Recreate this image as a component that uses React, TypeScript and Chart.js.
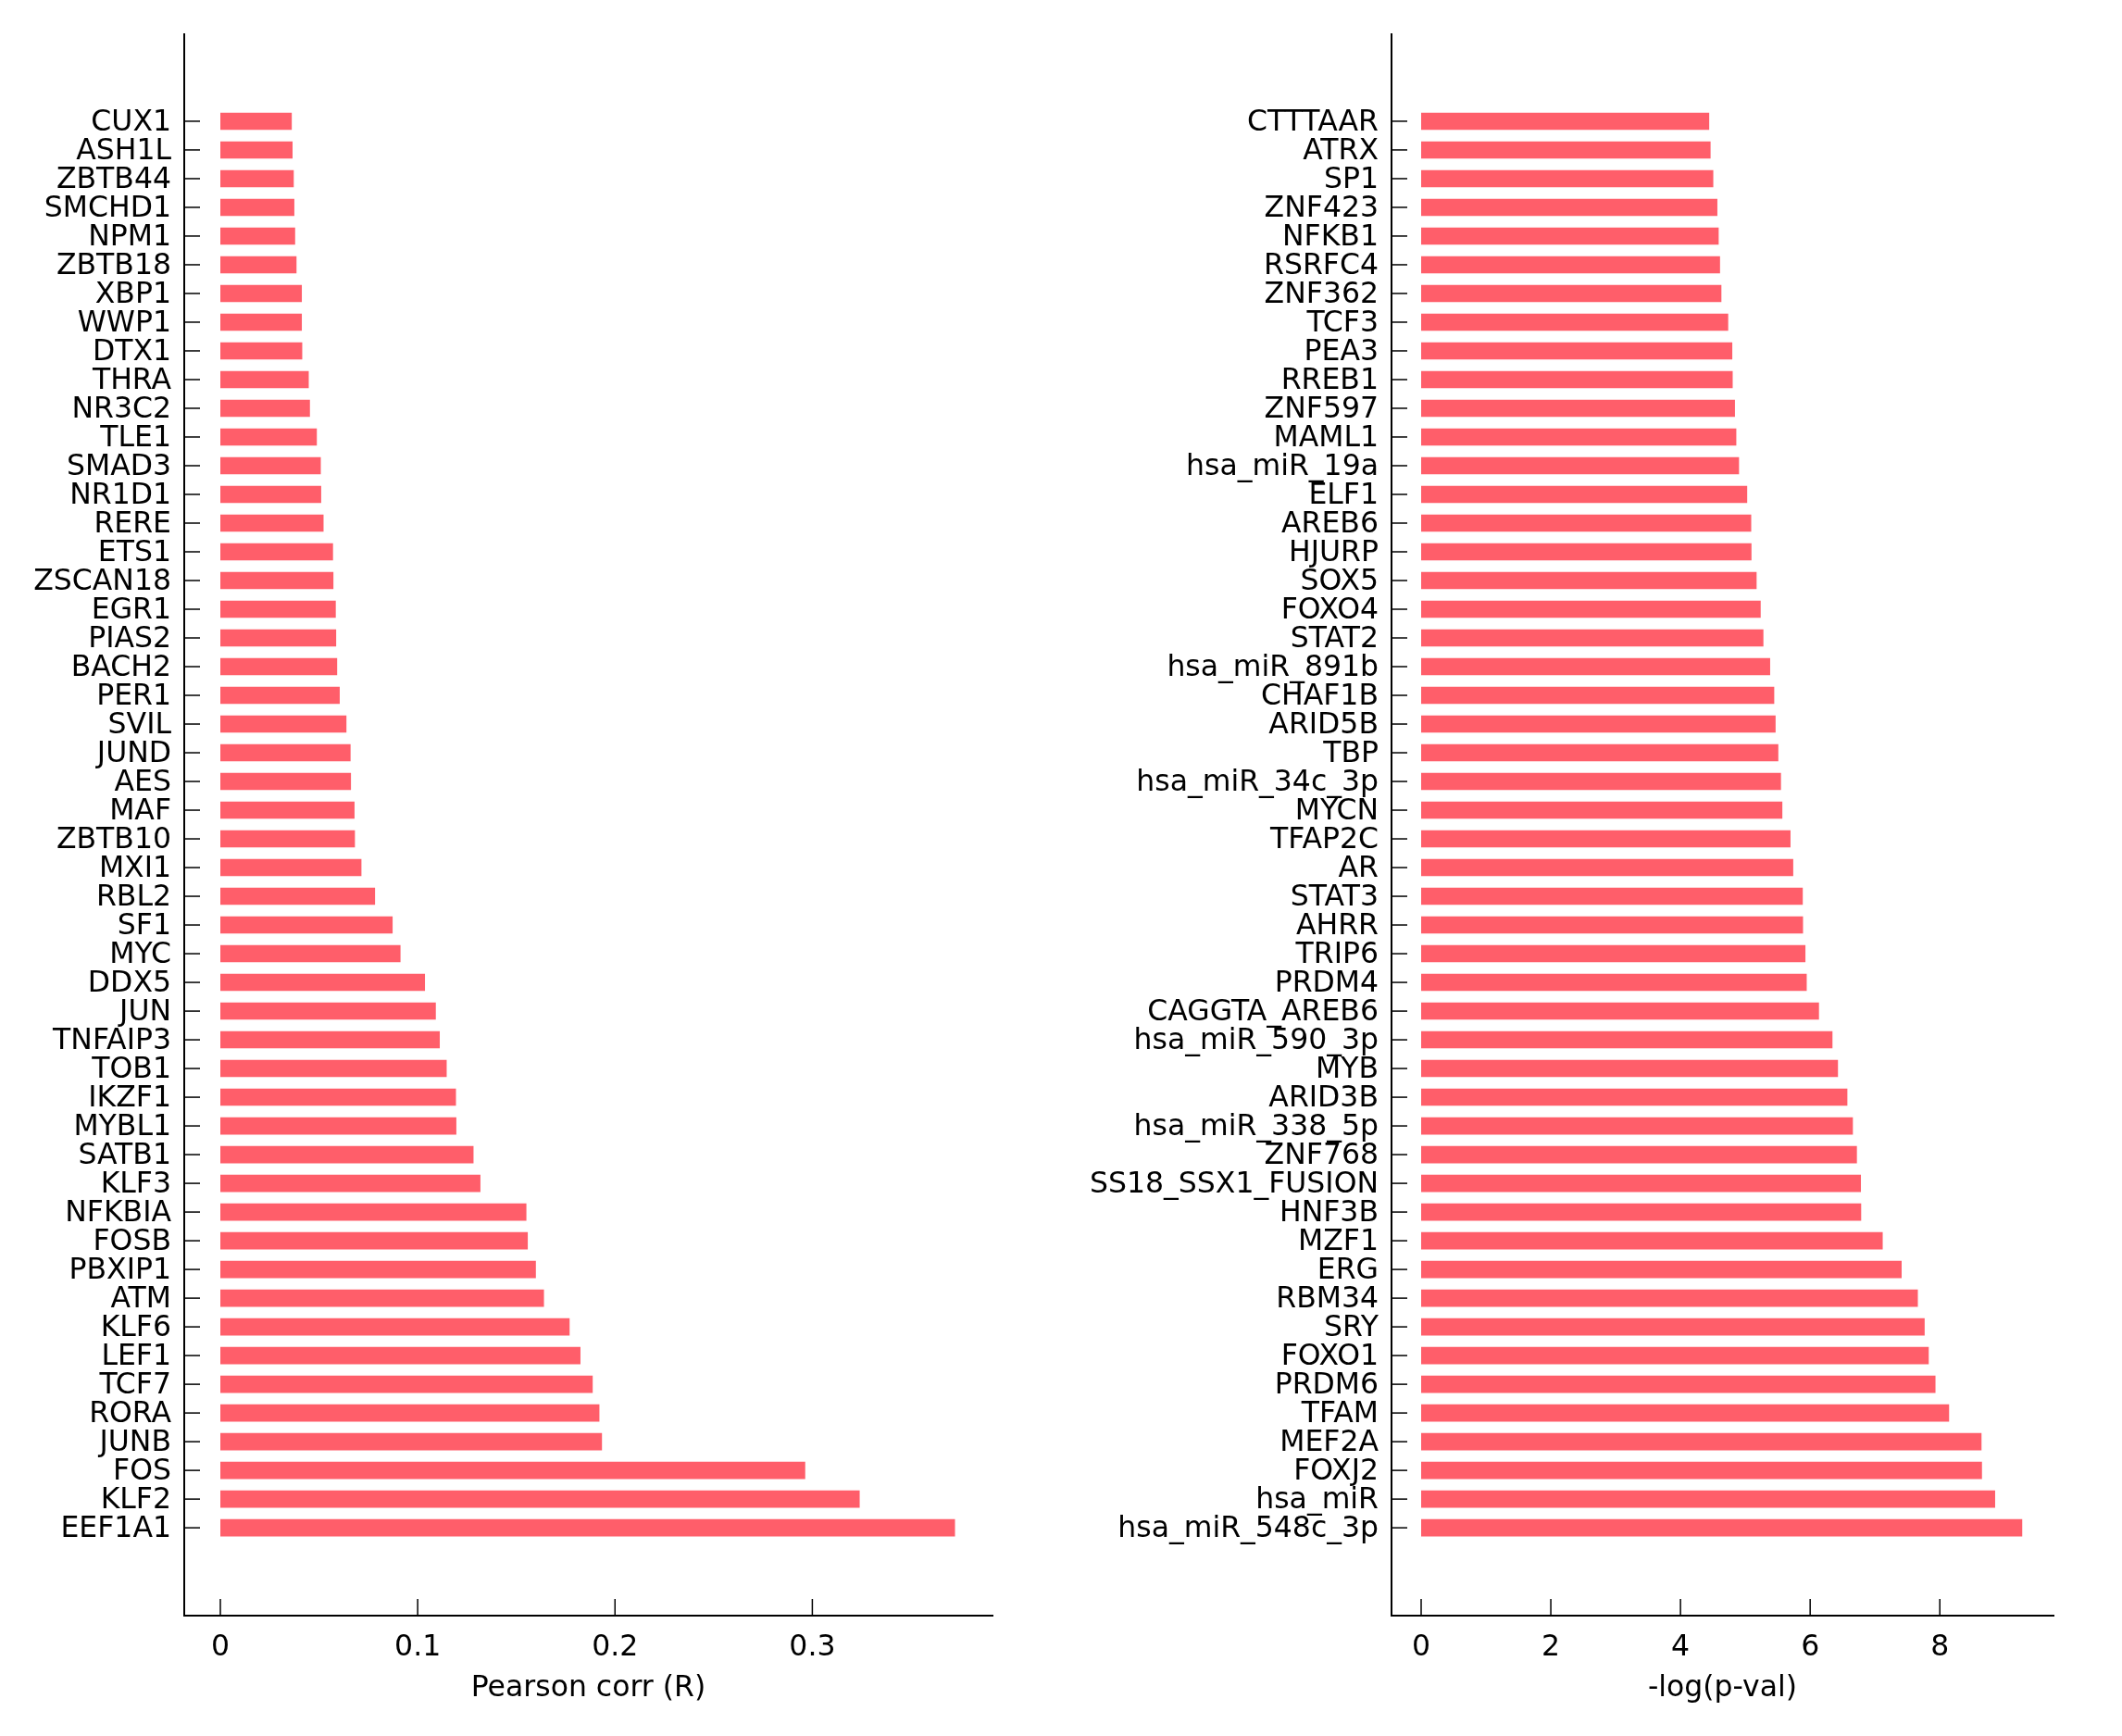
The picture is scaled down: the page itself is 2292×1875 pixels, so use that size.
import React, { useEffect, useRef } from "react";
import { Chart, registerables } from "chart.js";
Chart.register(...registerables);

const corrGenes = [
  "CUX1", "ASH1L", "ZBTB44", "SMCHD1", "NPM1", "ZBTB18", "XBP1", "WWP1", "DTX1", "THRA",
  "NR3C2", "TLE1", "SMAD3", "NR1D1", "RERE", "ETS1", "ZSCAN18", "EGR1", "PIAS2", "BACH2",
  "PER1", "SVIL", "JUND", "AES", "MAF", "ZBTB10", "MXI1", "RBL2", "SF1", "MYC",
  "DDX5", "JUN", "TNFAIP3", "TOB1", "IKZF1", "MYBL1", "SATB1", "KLF3", "NFKBIA", "FOSB",
  "PBXIP1", "ATM", "KLF6", "LEF1", "TCF7", "RORA", "JUNB", "FOS", "KLF2", "EEF1A1",
];
const corrValues = [
  0.0362, 0.0366, 0.0372, 0.0375, 0.0379, 0.0386, 0.0413, 0.0413, 0.0415, 0.0448,
  0.0454, 0.0489, 0.0509, 0.0511, 0.0523, 0.0571, 0.0573, 0.0585, 0.0587, 0.0592,
  0.0605, 0.0639, 0.066, 0.0662, 0.068, 0.0682, 0.0715, 0.0784, 0.0873, 0.0913,
  0.1037, 0.1092, 0.1112, 0.1147, 0.1194, 0.1196, 0.1283, 0.1318, 0.1551, 0.1558,
  0.1599, 0.164, 0.177, 0.1825, 0.1887, 0.1921, 0.1934, 0.2964, 0.324, 0.3723,
];
const corrTicks = [0, 0.1, 0.2, 0.3];

const pvalFactors = [
  "CTTTAAR", "ATRX", "SP1", "ZNF423", "NFKB1", "RSRFC4", "ZNF362", "TCF3", "PEA3", "RREB1",
  "ZNF597", "MAML1", "hsa_miR_19a", "ELF1", "AREB6", "HJURP", "SOX5", "FOXO4", "STAT2", "hsa_miR_891b",
  "CHAF1B", "ARID5B", "TBP", "hsa_miR_34c_3p", "MYCN", "TFAP2C", "AR", "STAT3", "AHRR", "TRIP6",
  "PRDM4", "CAGGTA_AREB6", "hsa_miR_590_3p", "MYB", "ARID3B", "hsa_miR_338_5p", "ZNF768", "SS18_SSX1_FUSION", "HNF3B", "MZF1",
  "ERG", "RBM34", "SRY", "FOXO1", "PRDM6", "TFAM", "MEF2A", "FOXJ2", "hsa_miR", "hsa_miR_548c_3p",
];
const pvalValues = [
  4.443, 4.464, 4.506, 4.569, 4.589, 4.61, 4.631, 4.736, 4.799, 4.805,
  4.84, 4.861, 4.903, 5.029, 5.091, 5.095, 5.174, 5.237, 5.279, 5.383,
  5.446, 5.467, 5.509, 5.55, 5.571, 5.697, 5.739, 5.886, 5.89, 5.927,
  5.947, 6.136, 6.344, 6.429, 6.574, 6.659, 6.721, 6.783, 6.787, 7.119,
  7.411, 7.661, 7.766, 7.829, 7.933, 8.143, 8.643, 8.65, 8.853, 9.271,
];
const pvalTicks = [0, 2, 4, 6, 8];

const BAR_COLOR = "rgb(255, 94, 106)";
const FONT = "DejaVu Sans";
const FONT_SIZE = 31.5;

const inwardTicks = {
  id: "inwardTicks",
  afterDatasetsDraw(chart: any) {
    const { ctx, chartArea, scales } = chart;
    const xs = scales.x;
    const ys = scales.y;
    ctx.save();
    ctx.strokeStyle = "#000";
    ctx.lineWidth = 1.5;
    xs.ticks.forEach((t: any) => {
      const px = xs.getPixelForValue(t.value);
      ctx.beginPath();
      ctx.moveTo(px, chartArea.bottom);
      ctx.lineTo(px, chartArea.bottom - 18);
      ctx.stroke();
    });
    ys.ticks.forEach((t: any) => {
      const py = ys.getPixelForValue(t.value);
      ctx.beginPath();
      ctx.moveTo(chartArea.left, py);
      ctx.lineTo(chartArea.left + 17, py);
      ctx.stroke();
    });
    ctx.restore();
  },
};

function makeConfig(
  labels: string[],
  values: number[],
  ticks: number[],
  xmin: number,
  xmax: number,
  title: string,
  yWidth: number
): any {
  return {
    type: "bar",
    data: {
      datasets: [
        {
          data: values.map((v, i) => ({ x: v, y: i })),
          backgroundColor: BAR_COLOR,
          borderWidth: 0,
          barPercentage: 0.6,
          categoryPercentage: 1.0,
        },
      ],
    },
    plugins: [inwardTicks],
    options: {
      indexAxis: "y",
      responsive: false,
      animation: false,
      devicePixelRatio: 1,
      layout: { padding: { left: 0, top: 37, right: 74, bottom: 0 } },
      plugins: { legend: { display: false }, tooltip: { enabled: false } },
      scales: {
        y: {
          type: "linear",
          reverse: true,
          offset: false,
          min: -3.03,
          max: 52.06,
          afterBuildTicks: (scale: any) => {
            scale.ticks = labels.map((_, i) => ({ value: i }));
          },
          afterFit: (scale: any) => {
            scale.width = yWidth;
          },
          grid: { display: false, drawTicks: false, offset: false },
          border: { display: true, color: "#000", width: 2 },
          ticks: {
            autoSkip: false,
            padding: 14,
            labelOffset: 2,
            color: "#000",
            font: { family: FONT, size: FONT_SIZE },
            callback: (v: any) => labels[v] ?? "",
          },
        },
        x: {
          type: "linear",
          offset: false,
          min: xmin,
          max: xmax,
          afterBuildTicks: (scale: any) => {
            scale.ticks = ticks.map((v) => ({ value: v }));
          },
          afterFit: (scale: any) => {
            scale.height = 130;
          },
          grid: { display: false, drawTicks: false },
          border: { display: true, color: "#000", width: 2 },
          ticks: {
            autoSkip: false,
            padding: 16,
            color: "#000",
            maxRotation: 0,
            font: { family: FONT, size: FONT_SIZE },
            callback: (v: any) => String(v),
          },
          title: {
            display: true,
            text: title,
            color: "#000",
            font: { family: FONT, size: FONT_SIZE },
            padding: { top: 0, bottom: 32 },
          },
        },
      },
    },
  };
}

function BarPanel(props: {
  labels: string[];
  values: number[];
  ticks: number[];
  xmin: number;
  xmax: number;
  title: string;
  yWidth: number;
  left: number;
}) {
  const ref = useRef<HTMLCanvasElement | null>(null);
  useEffect(() => {
    if (!ref.current) return;
    const chart = new Chart(
      ref.current,
      makeConfig(props.labels, props.values, props.ticks, props.xmin, props.xmax, props.title, props.yWidth)
    );
    return () => chart.destroy();
  }, []);
  return (
    <canvas
      ref={ref}
      width={1146}
      height={1875}
      style={{ position: "absolute", left: props.left, top: 0, width: 1146, height: 1875 }}
    />
  );
}

export default function App() {
  return (
    <div style={{ position: "absolute", left: 0, top: 0, width: 2292, height: 1875, background: "#fff", overflow: "hidden" }}>
      <BarPanel
        labels={corrGenes}
        values={corrValues}
        ticks={corrTicks}
        xmin={-0.0183}
        xmax={0.3913}
        title="Pearson corr (R)"
        yWidth={199}
        left={0}
      />
      <BarPanel
        labels={pvalFactors}
        values={pvalValues}
        ticks={pvalTicks}
        xmin={-0.457}
        xmax={9.753}
        title="-log(p-val)"
        yWidth={357}
        left={1146}
      />
    </div>
  );
}
